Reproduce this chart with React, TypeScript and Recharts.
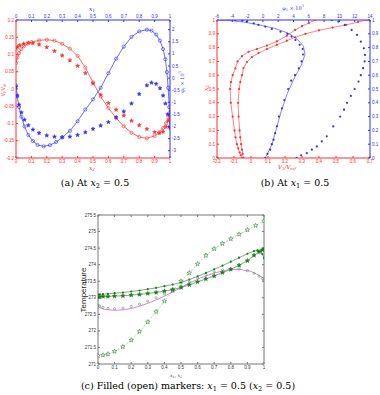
import { ScatterChart, Scatter, XAxis, YAxis } from 'recharts';

// ---- panel (a): profiles along x1 / x2 at x2 = 0.5 ----
const aRedCircles = [
  [0, 0.075], [0.01, 0.092], [0.02, 0.104], [0.035, 0.116], [0.05, 0.124], [0.075, 0.131],
  [0.1, 0.136], [0.15, 0.141], [0.2, 0.143], [0.25, 0.14], [0.3, 0.131], [0.35, 0.117],
  [0.4, 0.096], [0.45, 0.062], [0.5, 0.019], [0.55, -0.022], [0.6, -0.055], [0.65, -0.084],
  [0.7, -0.108], [0.75, -0.127], [0.8, -0.139], [0.85, -0.143], [0.9, -0.136], [0.93, -0.126],
  [0.955, -0.113], [0.975, -0.099], [0.99, -0.083], [1, -0.068],
];
const aRedStars = [
  [0, 0.118], [0.01, 0.122], [0.025, 0.127], [0.05, 0.131], [0.08, 0.134], [0.11, 0.133],
  [0.15, 0.129], [0.2, 0.121], [0.25, 0.11], [0.3, 0.097], [0.35, 0.083], [0.4, 0.067],
  [0.45, 0.046], [0.5, 0.016], [0.55, -0.017], [0.6, -0.041], [0.65, -0.06], [0.7, -0.077],
  [0.75, -0.092], [0.8, -0.105], [0.85, -0.116], [0.9, -0.125], [0.93, -0.128], [0.955, -0.124],
  [0.975, -0.11], [0.99, -0.092], [1, -0.077],
];
const aBlueCircles = [
  [0, -0.3], [0.008, -0.75], [0.02, -1.2], [0.035, -1.6], [0.055, -2.0], [0.08, -2.35],
  [0.11, -2.6], [0.14, -2.76], [0.18, -2.82], [0.22, -2.77], [0.26, -2.64], [0.3, -2.45],
  [0.35, -2.18], [0.4, -1.78], [0.45, -1.3], [0.5, -0.88], [0.55, -0.4], [0.6, 0.2],
  [0.65, 0.8], [0.7, 1.3], [0.75, 1.7], [0.8, 1.93], [0.85, 2.0], [0.88, 1.96], [0.91, 1.8],
  [0.935, 1.55], [0.955, 1.2], [0.97, 0.78], [0.98, 0.25], [0.988, -0.4], [0.995, -1.2], [1, -2.0],
];
const aBlueStars = [
  [0, -0.36], [0.008, -0.72], [0.02, -1.1], [0.035, -1.42], [0.055, -1.72], [0.08, -1.95],
  [0.11, -2.13], [0.15, -2.27], [0.2, -2.37], [0.25, -2.42], [0.3, -2.44], [0.35, -2.42],
  [0.4, -2.35], [0.45, -2.24], [0.5, -2.1], [0.55, -1.96], [0.6, -1.82], [0.65, -1.62],
  [0.7, -1.38], [0.75, -1.05], [0.8, -0.66], [0.85, -0.3], [0.88, -0.19], [0.91, -0.24],
  [0.935, -0.42], [0.955, -0.72], [0.97, -1.05], [0.985, -1.5], [1, -2.05],
];

// ---- panel (b): profiles along x2 at x1 = 0.5 (value, x2) ----
const bRedLeft = [
  [-0.053, 0], [-0.06, 0.02], [-0.067, 0.04], [-0.075, 0.07], [-0.083, 0.1], [-0.091, 0.15],
  [-0.097, 0.2], [-0.108, 0.3], [-0.119, 0.4], [-0.123, 0.5], [-0.118, 0.55], [-0.108, 0.6],
  [-0.092, 0.65], [-0.079, 0.7], [-0.053, 0.738], [-0.014, 0.77], [0.035, 0.79], [0.094, 0.815],
  [0.152, 0.845], [0.211, 0.886], [0.26, 0.928], [0.3, 0.955], [0.34, 0.978], [0.377, 1],
];
const bRedRight = [
  [-0.045, 0], [-0.049, 0.03], [-0.053, 0.06], [-0.058, 0.1], [-0.063, 0.15], [-0.067, 0.2],
  [-0.073, 0.3], [-0.076, 0.4], [-0.07, 0.5], [-0.063, 0.55], [-0.053, 0.6], [-0.044, 0.652],
  [-0.024, 0.695], [0.005, 0.731], [0.044, 0.76], [0.094, 0.79], [0.152, 0.82], [0.211, 0.85],
  [0.26, 0.875], [0.32, 0.9], [0.4, 0.925], [0.48, 0.945], [0.56, 0.965], [0.63, 0.985], [0.68, 1],
];
const bBlueLeft = [
  [0.3, 0], [0.6, 0.03], [0.95, 0.06], [1.17, 0.1], [1.39, 0.133], [1.6, 0.18], [1.83, 0.23],
  [2.1, 0.3], [2.5, 0.36], [2.8, 0.42], [3.3, 0.5], [3.7, 0.56], [4.2, 0.6], [4.7, 0.65],
  [5.05, 0.7], [5.25, 0.75], [5.2, 0.79], [4.8, 0.82], [4.25, 0.855], [3.75, 0.88], [3.2, 0.9],
  [2.3, 0.915], [1.17, 0.935], [0.3, 0.952], [-0.57, 0.964], [-1.2, 0.976], [-2.1, 0.988],
  [-2.7, 0.995], [-3.6, 1],
];
const bBlueLeftExact = [
  [0.3, 0], [1.2, 0.1], [1.85, 0.23], [2.4, 0.34], [3.2, 0.47], [4.2, 0.59], [5.0, 0.67],
  [5.5, 0.75], [5.3, 0.81], [4.5, 0.86], [3.3, 0.905], [1.5, 0.94], [-0.5, 0.965], [-2.5, 0.985],
  [-4.5, 0.997], [-5.8, 1],
];
const bBlueRight = [
  [4.4, 0], [5.0, 0.02], [5.74, 0.036], [6.4, 0.06], [7.04, 0.084], [7.7, 0.12], [8.35, 0.157],
  [9.2, 0.229], [10.1, 0.3], [10.6, 0.35], [11.0, 0.4], [11.5, 0.45], [12.0, 0.5], [12.5, 0.554],
  [12.8, 0.6], [13.1, 0.651], [13.3, 0.7], [13.35, 0.747], [13.2, 0.795], [12.8, 0.843],
  [12.3, 0.892], [11.6, 0.928], [10.7, 0.964], [9.87, 0.988], [9.0, 1],
];

// ---- panel (c): temperature profiles ----
const cFilledDots = [
  [0, 273.1], [0.01, 273.1], [0.03, 273.11], [0.06, 273.12], [0.1, 273.14], [0.15, 273.16],
  [0.2, 273.19], [0.25, 273.22], [0.3, 273.26], [0.35, 273.3], [0.4, 273.35], [0.45, 273.4],
  [0.5, 273.46], [0.55, 273.55], [0.6, 273.65], [0.65, 273.75], [0.7, 273.86], [0.75, 273.97],
  [0.8, 274.09], [0.85, 274.21], [0.9, 274.33], [0.94, 274.41], [0.96, 274.43], [0.98, 274.4],
  [0.99, 274.32], [1, 274.2],
];
const cFilledStars = [
  [0, 273.03], [0.01, 273.03], [0.03, 273.04], [0.06, 273.04], [0.1, 273.05], [0.15, 273.06],
  [0.2, 273.08], [0.25, 273.1], [0.3, 273.13], [0.35, 273.16], [0.4, 273.2], [0.45, 273.25],
  [0.5, 273.31], [0.55, 273.39], [0.6, 273.48], [0.65, 273.57], [0.7, 273.66], [0.75, 273.76],
  [0.8, 273.86], [0.85, 273.98], [0.9, 274.12], [0.94, 274.28], [0.97, 274.39], [0.99, 274.45],
  [1, 274.47],
];
const cOpenCircles = [
  [0, 272.78], [0.01, 272.75], [0.03, 272.71], [0.06, 272.68], [0.1, 272.67], [0.15, 272.69],
  [0.2, 272.74], [0.25, 272.81], [0.3, 272.9], [0.35, 273.0], [0.4, 273.11], [0.45, 273.23],
  [0.5, 273.36], [0.55, 273.48], [0.6, 273.6], [0.65, 273.7], [0.7, 273.78], [0.75, 273.84],
  [0.8, 273.87], [0.85, 273.87], [0.9, 273.82], [0.94, 273.74], [0.97, 273.65], [0.99, 273.58],
  [1, 273.55],
];
const cOpenExact = [
  [0, 272.72], [0.04, 272.65], [0.1, 272.62], [0.16, 272.64], [0.22, 272.7], [0.3, 272.83],
  [0.38, 273.0], [0.46, 273.2], [0.54, 273.42], [0.62, 273.6], [0.7, 273.75], [0.78, 273.84],
  [0.85, 273.86], [0.92, 273.8], [0.97, 273.68], [1, 273.58],
];
const cOpenStars = [
  [0, 271.25], [0.03, 271.27], [0.06, 271.3], [0.1, 271.38], [0.15, 271.52], [0.2, 271.72],
  [0.25, 271.98], [0.3, 272.27], [0.35, 272.58], [0.4, 272.9], [0.45, 273.22], [0.5, 273.5],
  [0.55, 273.75], [0.6, 274.02], [0.65, 274.28], [0.7, 274.48], [0.75, 274.64], [0.8, 274.78],
  [0.85, 274.92], [0.9, 275.05], [0.95, 275.18], [1, 275.32],
];

// ---- ticks ----
const unitTicks = [0, 0.1, 0.2, 0.3, 0.4, 0.5, 0.6, 0.7, 0.8, 0.9, 1];
const aVTicks = [-0.2, -0.15, -0.1, -0.05, 0, 0.05, 0.1, 0.15, 0.2];
const aPhiTicks = [-3, -2.5, -2, -1.5, -1, -0.5, 0, 0.5, 1, 1.5, 2];
const bVTicks = [-0.2, -0.1, 0, 0.1, 0.2, 0.3, 0.4, 0.5, 0.6, 0.7];
const bPhiTicks = [-6, -4, -2, 0, 2, 4, 6, 8, 10, 12, 14];
const cTempTicks = [271, 271.5, 272, 272.5, 273, 273.5, 274, 274.5, 275, 275.5];

const RED = '#ff2e2e';
const BLUE = '#2e2eff';
const GREEN = '#1c7a1c';
const GREEN_OPEN = '#5f8f5f';
const MAGENTA = '#c94fc9';
const GRAY = '#777';
const SANS = '"Liberation Sans", Arial, sans-serif';
const SERIF = '"DejaVu Serif", "Liberation Serif", serif';

const pts = (rows: number[][]) => rows.map(([x, y]) => ({ x, y }));

function starPath(cx: number, cy: number, R: number) {
  const r = R * 0.42;
  let d = '';
  for (let i = 0; i < 10; i++) {
    const rad = i % 2 === 0 ? R : r;
    const a = -Math.PI / 2 + (i * Math.PI) / 5;
    d += (i === 0 ? 'M' : 'L') + (cx + rad * Math.cos(a)).toFixed(2) + ',' + (cy + rad * Math.sin(a)).toFixed(2);
  }
  return d + 'Z';
}

const openCircle = (color: string, r: number) => (p: any) => (
  <circle cx={p.cx} cy={p.cy} r={r} fill="none" stroke={color} strokeWidth={0.6} />
);
const dot = (color: string, r: number) => (p: any) => <circle cx={p.cx} cy={p.cy} r={r} fill={color} />;
const star = (color: string, R: number, fill: string) => (p: any) => (
  <path d={starPath(p.cx, p.cy, R)} fill={fill} stroke={color} strokeWidth={0.5} />
);
const noMarker = () => <g />;

function axisProps(color: string, fontSize: number, textColor?: string) {
  return {
    type: 'number' as const,
    stroke: color,
    tick: { fill: textColor || color, fontSize, fontFamily: SANS },
    tickSize: -2,
    tickMargin: 4,
    interval: 0 as const,
    allowDataOverflow: true,
  };
}

function Text({ x, y, color = '#000', size, rotate = 0, font = SERIF, italic = false, children }: any) {
  return (
    <div
      style={{
        position: 'absolute', left: x, top: y, color, fontSize: size, fontFamily: font,
        fontStyle: italic ? 'italic' : 'normal', whiteSpace: 'nowrap', lineHeight: 1,
        transform: `translate(-50%, -50%) rotate(${rotate}deg)`,
      }}
    >
      {children}
    </div>
  );
}

const Sub = ({ children }: any) => (
  <sub style={{ fontSize: '0.7em', verticalAlign: '-0.3em', lineHeight: 0 }}>{children}</sub>
);

function PanelA() {
  return (
    <div style={{ position: 'absolute', left: 0, top: 0 }}>
      <ScatterChart width={190} height={175} margin={{ top: 0, right: 0, bottom: 0, left: 0 }}>
        <XAxis xAxisId="bot" dataKey="x" orientation="bottom" height={17} domain={[0, 1]} ticks={unitTicks} {...axisProps(RED, 4.5)} />
        <XAxis xAxisId="top" dataKey="x" orientation="top" height={20} domain={[0, 1]} ticks={unitTicks} {...axisProps(BLUE, 4.5)} />
        <YAxis yAxisId="left" dataKey="y" orientation="left" width={16} domain={[-0.2, 0.2]} ticks={aVTicks} {...axisProps(RED, 4.5)} />
        <YAxis yAxisId="right" dataKey="y" orientation="right" width={20} domain={[-3.3, 2.4]} ticks={aPhiTicks} {...axisProps(BLUE, 4.5)} />
        <Scatter xAxisId="bot" yAxisId="left" data={pts(aRedCircles)} line={{ stroke: RED, strokeWidth: 0.7 }} shape={openCircle(RED, 1.6)} isAnimationActive={false} />
        <Scatter xAxisId="bot" yAxisId="left" data={pts(aRedStars)} shape={star(RED, 2.1, RED)} isAnimationActive={false} />
        <Scatter xAxisId="top" yAxisId="right" data={pts(aBlueCircles)} line={{ stroke: BLUE, strokeWidth: 0.7 }} shape={openCircle(BLUE, 1.6)} isAnimationActive={false} />
        <Scatter xAxisId="top" yAxisId="right" data={pts(aBlueStars)} shape={star(BLUE, 2.1, BLUE)} isAnimationActive={false} />
      </ScatterChart>
      <Text x={92} y={9} color={BLUE} size={6} italic>x<Sub>1</Sub></Text>
      <Text x={92} y={168} color={RED} size={6} italic>x<Sub>2</Sub></Text>
      <Text x={4} y={90} color={RED} size={4.5} rotate={-90} font={SANS}>V<Sub>1</Sub>/V<Sub>ref</Sub></Text>
      <Text x={182} y={82} color={BLUE} size={5} rotate={-90}>φ<Sub>1</Sub> × 10<sup style={{ fontSize: '0.7em', lineHeight: 0 }}>3</sup></Text>
    </div>
  );
}

function PanelB() {
  return (
    <div style={{ position: 'absolute', left: 190, top: 0 }}>
      <ScatterChart width={190} height={175} margin={{ top: 0, right: 0, bottom: 0, left: 0 }}>
        <XAxis xAxisId="bot" dataKey="x" orientation="bottom" height={17} domain={[-0.2, 0.7]} ticks={bVTicks} {...axisProps(RED, 4.5)} />
        <XAxis xAxisId="top" dataKey="x" orientation="top" height={20} domain={[-6, 14]} ticks={bPhiTicks} {...axisProps(BLUE, 4.5)} />
        <YAxis yAxisId="left" dataKey="y" orientation="left" width={27} domain={[0, 1]} ticks={unitTicks} {...axisProps(RED, 4.5)} />
        <YAxis yAxisId="right" dataKey="y" orientation="right" width={10} domain={[0, 1]} ticks={unitTicks} {...axisProps(BLUE, 4.5)} />
        <Scatter xAxisId="bot" yAxisId="left" data={pts(bRedLeft)} line={{ stroke: RED, strokeWidth: 0.6 }} shape={dot(RED, 1.1)} isAnimationActive={false} />
        <Scatter xAxisId="bot" yAxisId="left" data={pts(bRedRight)} line={{ stroke: RED, strokeWidth: 0.6 }} shape={dot(RED, 1.1)} isAnimationActive={false} />
        <Scatter xAxisId="top" yAxisId="right" data={pts(bBlueLeftExact)} line={{ stroke: BLUE, strokeWidth: 0.6 }} shape={noMarker} isAnimationActive={false} />
        <Scatter xAxisId="top" yAxisId="right" data={pts(bBlueLeft)} shape={dot(BLUE, 1.1)} isAnimationActive={false} />
        <Scatter xAxisId="top" yAxisId="right" data={pts(bBlueRight)} shape={dot(BLUE, 1.1)} isAnimationActive={false} />
      </ScatterChart>
      <Text x={103} y={8} color={BLUE} size={5}>φ<Sub>1</Sub> × 10<sup style={{ fontSize: '0.7em', lineHeight: 0 }}>3</sup></Text>
      <Text x={97} y={168} color={RED} size={5.5} italic>V<Sub>1</Sub>/V<Sub>ref</Sub></Text>
      <Text x={16} y={88} color={RED} size={6} italic rotate={-90}>x<Sub>2</Sub></Text>
    </div>
  );
}

function PanelC() {
  return (
    <div style={{ position: 'absolute', left: 60, top: 205 }}>
      <ScatterChart width={214} height={172} margin={{ top: 0, right: 0, bottom: 0, left: 0 }}>
        <XAxis xAxisId="bot" dataKey="x" orientation="bottom" height={13} domain={[0, 1]} ticks={unitTicks} {...axisProps(GRAY, 4.5, '#333')} />
        <XAxis xAxisId="top" dataKey="x" orientation="top" height={10} domain={[0, 1]} ticks={unitTicks} tickFormatter={() => ''} {...axisProps(GRAY, 4.5)} />
        <YAxis yAxisId="left" dataKey="y" orientation="left" width={38} domain={[271, 275.5]} ticks={cTempTicks} {...axisProps(GRAY, 4.5, '#333')} />
        <YAxis yAxisId="right" dataKey="y" orientation="right" width={10} domain={[271, 275.5]} ticks={cTempTicks} tickFormatter={() => ''} {...axisProps(GRAY, 4.5)} />
        <Scatter xAxisId="bot" yAxisId="left" data={pts(cOpenStars)} line={{ stroke: '#b58cb5', strokeWidth: 0.6, strokeDasharray: '2 1.5' }} shape={star(GREEN, 2.4, '#e6f2e6')} isAnimationActive={false} />
        <Scatter xAxisId="bot" yAxisId="left" data={pts(cOpenExact)} line={{ stroke: MAGENTA, strokeWidth: 0.7 }} shape={noMarker} isAnimationActive={false} />
        <Scatter xAxisId="bot" yAxisId="left" data={pts(cOpenCircles)} shape={openCircle(GREEN_OPEN, 1.1)} isAnimationActive={false} />
        <Scatter xAxisId="bot" yAxisId="left" data={pts(cFilledStars)} line={{ stroke: GREEN, strokeWidth: 0.6 }} shape={star(GREEN, 2.3, GREEN)} isAnimationActive={false} />
        <Scatter xAxisId="bot" yAxisId="left" data={pts(cFilledDots)} line={{ stroke: GREEN, strokeWidth: 0.6 }} shape={dot(GREEN, 1.1)} isAnimationActive={false} />
      </ScatterChart>
      <Text x={116} y={171} color="#333" size={4.5} italic>x<Sub>1</Sub>, x<Sub>2</Sub></Text>
      <Text x={24} y={85} color="#222" size={8} rotate={-90} font={SANS}>Temperature</Text>
    </div>
  );
}

export default function App() {
  return (
    <div style={{ position: 'absolute', left: 0, top: 0, width: 380, height: 395, background: '#fff', overflow: 'hidden' }}>
      <PanelA />
      <PanelB />
      <PanelC />
      <Text x={95} y={183} size={9.5}>(a) At <i>x</i><Sub>2</Sub> = 0.5</Text>
      <Text x={295} y={183} size={9.5}>(b) At <i>x</i><Sub>1</Sub> = 0.5</Text>
      <Text x={188} y={386} size={9.5}>(c) Filled (open) markers: <i>x</i><Sub>1</Sub> = 0.5 (<i>x</i><Sub>2</Sub> = 0.5)</Text>
    </div>
  );
}
